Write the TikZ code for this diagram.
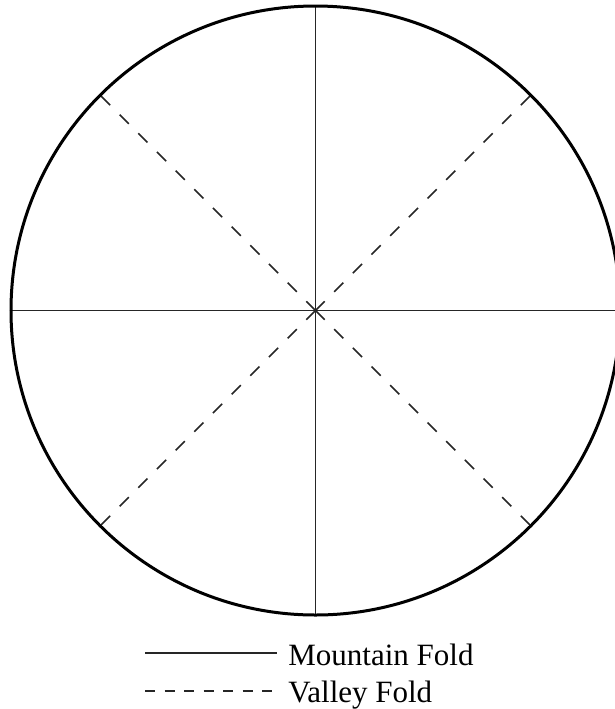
\documentclass[tikz,border=0pt]{standalone}
\usepackage{fontspec}
\setmainfont{Liberation Serif}
\usetikzlibrary{positioning, calc}
\tikzset{
  sheet/.style={line width=1.5pt},
  mountainfold/.style={line width=0.8pt, black!85},
  valleyfold/.style={line width=0.8pt, black!85, dash pattern=on 6.5pt off 6.7pt},
  legendtext/.style={inner sep=0pt, font=\fontsize{15.5}{18}\selectfont, anchor=base west}
}
\begin{document}
\begin{tikzpicture}[x=0.5pt, y=-0.5pt]
    \useasboundingbox (0,0) rectangle (615,709);
    \clip (0,0) rectangle (615,709);
    \coordinate (o) at (315.5,310.5);
    \def\rad{304.5}
    % folds
    \foreach \a in {0,90,180,270}
      \draw[mountainfold] (o) -- ($(o)+(\a:\rad)$);
    \foreach \a in {45,135,225,315}
      \draw[valleyfold] (o) -- ($(o)+(\a:\rad-1)$);
    \draw[sheet] (o) circle[radius=\rad];
    % legend
    \node[legendtext] (mountain) at (288,665) {Mountain Fold};
    \node[legendtext] (valley) at (288,702) {Valley Fold};
    \coordinate (m0) at (145,653);
    \coordinate (v0) at (145,691);
    \draw[mountainfold] (m0) -- (m0 -| {$(mountain.west)+(-11,0)$});
    \draw[valleyfold, dash pattern=on 5pt off 4.75pt] (v0) -- (v0 -| {$(valley.west)+(-11,0)$});
\end{tikzpicture}
\end{document}
